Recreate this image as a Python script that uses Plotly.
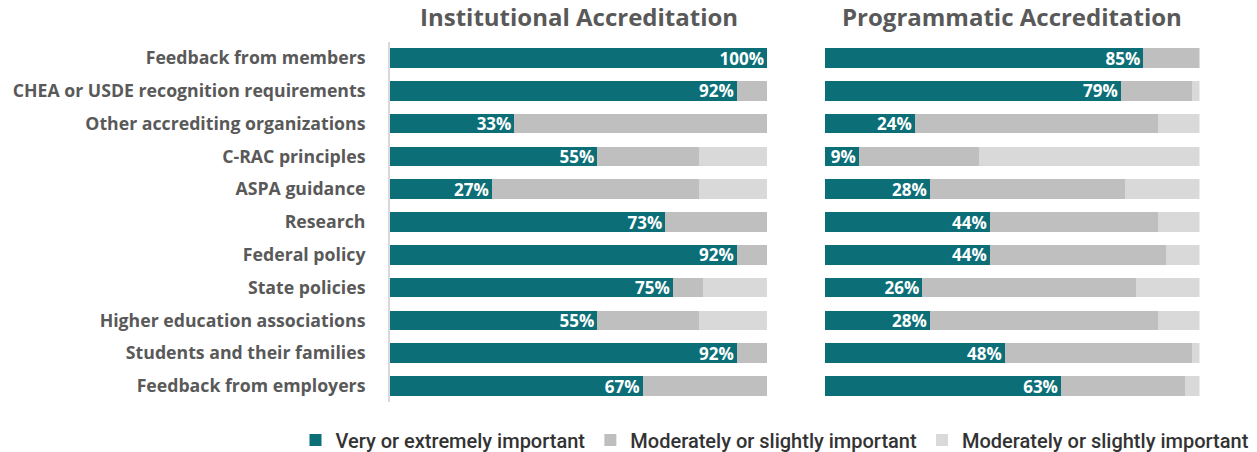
import plotly.graph_objects as go
from plotly.subplots import make_subplots

categories = [
    "Feedback from members",
    "CHEA or USDE recognition requirements",
    "Other accrediting organizations",
    "C-RAC principles",
    "ASPA guidance",
    "Research",
    "Federal policy",
    "State policies",
    "Higher education associations",
    "Students and their families",
    "Feedback from employers",
]

panel_titles = ["Institutional Accreditation", "Programmatic Accreditation"]
series_names = ["Very or extremely important",
                "Moderately or slightly important",
                "Moderately or slightly important"]

very_inst = [100, 92, 33, 55, 27, 73, 92, 75, 55, 92, 67]
mod_inst = [0, 8, 67, 27, 55, 27, 8, 8, 27, 8, 33]
light_inst = [0, 0, 0, 18, 18, 0, 0, 17, 18, 0, 0]

very_prog = [85, 79, 24, 9, 28, 44, 44, 26, 28, 48, 63]
mod_prog = [15, 19, 65, 32, 52, 45, 47, 57, 61, 50, 33]
light_prog = [0, 2, 11, 59, 20, 11, 9, 17, 11, 2, 4]

colors = ["#0C6F78", "#BFBFBF", "#D9D9D9"]
FONT = "Open Sans"
W, H = 1257, 452

fig = make_subplots(rows=1, cols=2, shared_yaxes=False, horizontal_spacing=0.05)

panels = [(very_inst, mod_inst, light_inst), (very_prog, mod_prog, light_prog)]
for col, vals in enumerate(panels, start=1):
    for i, (series, name, color) in enumerate(zip(vals, series_names, colors)):
        fig.add_trace(go.Bar(
            y=categories, x=series, orientation="h", name=name,
            marker=dict(color=color, line=dict(width=0)),
            width=0.6,
            text=[f"{v}%" for v in series] if i == 0 else None,
            textposition="inside" if i == 0 else "none",
            insidetextanchor="end",
            textfont=dict(family=FONT, size=17, color="white", weight="bold"),
            showlegend=(col == 1),
            legendgroup=f"g{i}",
            hoverinfo="skip",
        ), row=1, col=col)

fig.update_layout(
    barmode="stack",
    width=W, height=H,
    margin=dict(l=0, r=0, t=0, b=0, autoexpand=False),
    plot_bgcolor="white", paper_bgcolor="white",
    bargap=0.4,
    uniformtext=dict(minsize=16, mode="show"),
    font=dict(family=FONT),
    legend=dict(
        orientation="h", x=0.998, xanchor="right", y=1 - 440 / H, yanchor="middle",
        font=dict(family="Roboto", size=20, color="#333333", weight=500),
        traceorder="normal", itemwidth=30,
    ),
)

ydom = [1 - 402.4 / H, 1 - 41.6 / H]
fig.update_xaxes(domain=[390 / W, 767 / W], range=[0, 100], visible=False, row=1, col=1)
fig.update_xaxes(domain=[825 / W, 1199.5 / W], range=[0, 100], visible=False, row=1, col=2)
fig.update_yaxes(domain=ydom, autorange="reversed", showgrid=False, zeroline=False)
fig.update_yaxes(row=1, col=1, showline=True, linecolor="#D9D9D9", linewidth=2,
                 ticks="", ticklabelstandoff=19, automargin=False,
                 tickfont=dict(family=FONT, size=17.7, color="#595959", weight="bold"))
fig.update_yaxes(row=1, col=2, showticklabels=False, showline=False, ticks="")

centers = [(390 + 767) / 2 / W, (825 + 1199.5) / 2 / W]
for cx, title in zip(centers, panel_titles):
    fig.add_annotation(x=cx, y=1 - 16 / H, xref="paper", yref="paper",
                       text=title, showarrow=False, xanchor="center", yanchor="middle",
                       font=dict(family=FONT, size=24, color="#595959", weight="bold"))

fig.write_html("out.html", config={"displayModeBar": False},
               post_script="document.body.style.margin='0';document.body.style.overflow='hidden';")
